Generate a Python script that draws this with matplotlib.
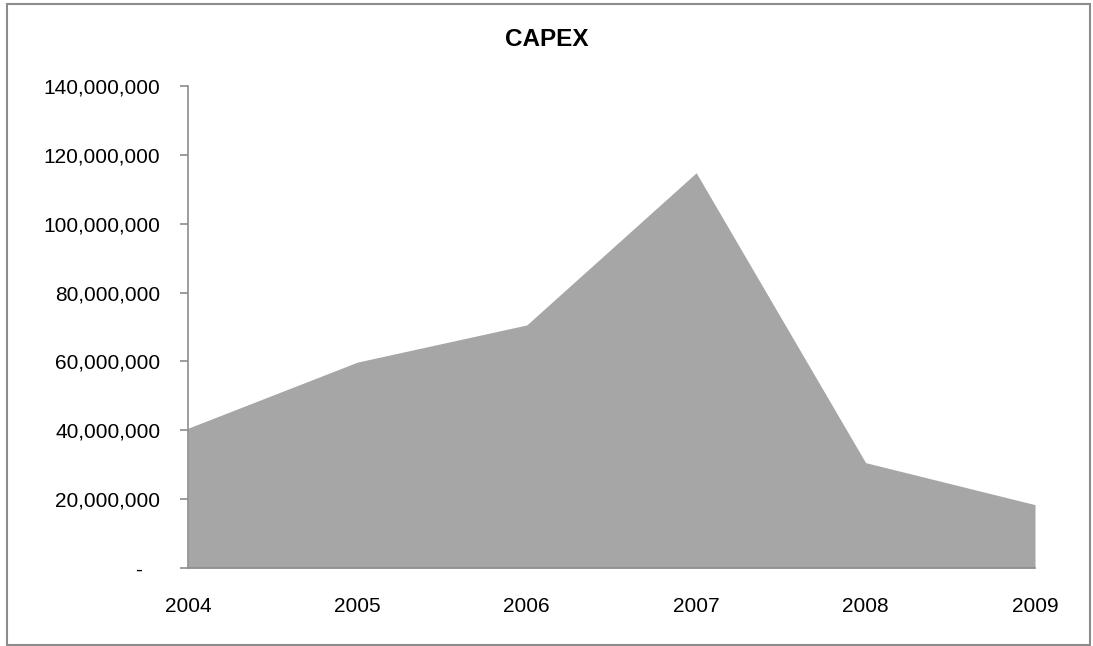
import matplotlib
matplotlib.use("Agg")
import matplotlib.pyplot as plt
from matplotlib.patches import Rectangle
from matplotlib.ticker import FuncFormatter

plt.rcParams['font.family'] = ['Liberation Sans', 'DejaVu Sans']

years = ["2004", "2005", "2006", "2007", "2008", "2009"]
capex = [40_600_000, 59_800_000, 70_600_000, 114_800_000, 30_600_000, 18_400_000]
y_ticks = [0, 20_000_000, 40_000_000, 60_000_000, 80_000_000, 100_000_000, 120_000_000, 140_000_000]

W, H = 1093, 646
fig = plt.figure(figsize=(W / 100, H / 100), dpi=100)

# outer chart frame
fig.patches.append(Rectangle((7 / W, 1 - 645 / H), (1090 - 7) / W, (645 - 4) / H,
                             transform=fig.transFigure, fill=False,
                             edgecolor="#8c8c8c", linewidth=1.5))

ax = fig.add_axes([188 / W, 1 - 568 / H, (1035 - 188) / W, (568 - 86) / H])
x = list(range(len(years)))
ax.fill_between(x, capex, 0, color="#a6a6a6", linewidth=0)

ax.set_xlim(0, len(years) - 1)
ax.set_ylim(0, 140_000_000)
ax.set_xticks(x)
ax.set_xticklabels(years)
ax.set_yticks(y_ticks)
ax.yaxis.set_major_formatter(FuncFormatter(lambda v, p: "-   " if v == 0 else f"{int(v):,}"))

for s in ["top", "right"]:
    ax.spines[s].set_visible(False)
for s in ["left", "bottom"]:
    ax.spines[s].set_color("#8c8c8c")
    ax.spines[s].set_linewidth(1.2)

ax.tick_params(axis="y", length=6, width=1.2, color="#8c8c8c", labelsize=15, pad=14)
ax.tick_params(axis="x", length=0, labelsize=15, pad=21)

fig.text(547 / W, 1 - 40 / H, "CAPEX", ha="center", va="center",
         fontsize=17.5, fontweight="bold")

fig.savefig("out.png", dpi=100)
